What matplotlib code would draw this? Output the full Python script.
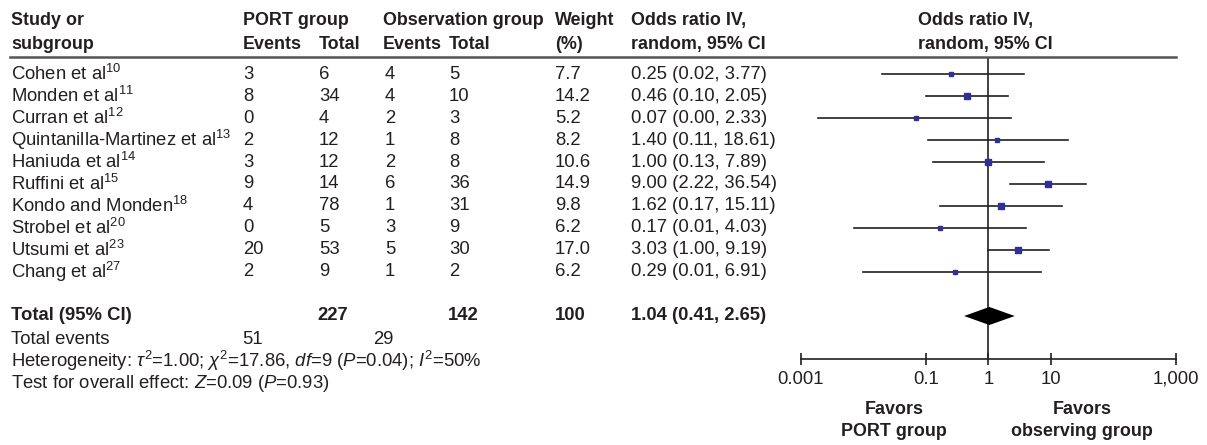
import numpy as np
import matplotlib.pyplot as plt
from matplotlib import transforms

plt.rcParams['font.family'] = ['Liberation Sans', 'DejaVu Sans']
plt.rcParams['mathtext.fontset'] = 'custom'
plt.rcParams['mathtext.rm'] = 'Liberation Sans'
plt.rcParams['mathtext.it'] = 'Liberation Sans:italic'
plt.rcParams['mathtext.bf'] = 'Liberation Sans:bold'

# study-level data
studies = ['Cohen et al', 'Monden et al', 'Curran et al', 'Quintanilla-Martinez et al',
           'Haniuda et al', 'Ruffini et al', 'Kondo and Monden', 'Strobel et al',
           'Utsumi et al', 'Chang et al']
refs = ['10', '11', '12', '13', '14', '15', '18', '20', '23', '27']
port_events = [3, 8, 0, 2, 3, 9, 4, 0, 20, 2]
port_total = [6, 34, 4, 12, 12, 14, 78, 5, 53, 9]
obs_events = [4, 4, 2, 1, 2, 6, 1, 3, 5, 1]
obs_total = [5, 10, 3, 8, 8, 36, 31, 9, 30, 2]
weights = [7.7, 14.2, 5.2, 8.2, 10.6, 14.9, 9.8, 6.2, 17.0, 6.2]
odds = [0.25, 0.46, 0.07, 1.40, 1.00, 9.00, 1.62, 0.17, 3.03, 0.29]
ci_low = [0.02, 0.10, 0.0019, 0.11, 0.13, 2.22, 0.17, 0.0071, 1.00, 0.01]
ci_high = [3.77, 2.05, 2.33, 18.61, 7.89, 36.54, 15.11, 4.03, 9.19, 6.91]

# pooled estimate
total_port, total_obs = 227, 142
events_port, events_obs = 51, 29
total_weight = 100
pooled_or, pooled_lo, pooled_hi = 1.04, 0.41, 2.65

tick_vals = [0.001, 0.1, 1, 10, 1000]
tick_labels = ['0.001', '0.1', '1', '10', '1,000']

TXT = '#231f20'
SQ = '#2e3192'
FS = 13.3
FS_HDR = 12.9
W, H = 1207, 445

fig = plt.figure(figsize=(W / 100, H / 100), dpi=100)
ax = fig.add_axes([800.8 / W, 86 / H, 375 / W, 302 / H])
ax.set_xscale('log')
ax.set_xlim(0.001, 1000)
ax.set_ylim(12.955, -0.773)
for s in ['top', 'left', 'right']:
    ax.spines[s].set_visible(False)
ax.spines['bottom'].set_linewidth(1.2)
ax.spines['bottom'].set_color(TXT)
ax.set_yticks([])
ax.set_xticks(tick_vals)
ax.set_xticklabels(tick_labels)
ax.xaxis.set_minor_locator(plt.NullLocator())
ax.tick_params(axis='x', direction='inout', length=9, width=1.2, colors=TXT,
               labelsize=FS, pad=4)

rows = np.arange(len(studies))
total_row = len(studies) + 1

# line of no effect
ax.axvline(1, color=TXT, lw=1.2, zorder=1)

# confidence intervals and weighted squares
for i in rows:
    ax.plot([ci_low[i], ci_high[i]], [i, i], color=TXT, lw=1.2, zorder=2)
    ax.plot(odds[i], i, marker='s', ms=1.2 * np.sqrt(weights[i]), color=SQ,
            mec=SQ, zorder=3)

# pooled diamond
h = 0.41
ax.fill([pooled_lo, pooled_or, pooled_hi, pooled_or],
        [total_row, total_row - h, total_row, total_row + h],
        color='black', lw=0, zorder=3)

# table text: x in figure pixels, y in row units
tr = transforms.blended_transform_factory(fig.transFigure, ax.transData)


def put(xpx, row, s, bold=False, ha='left', size=FS):
    fig.text(xpx / W, row, s, transform=tr, fontsize=size, color=TXT, va='center',
             ha=ha, fontweight='bold' if bold else 'normal')


def head(xpx, row, s, ha='left'):
    put(xpx, row, s, bold=True, ha=ha, size=FS_HDR)


# header line across the table
line_tr = transforms.blended_transform_factory(fig.transFigure, ax.transAxes)
ax.plot([10 / W, 1176 / W], [1, 1], transform=line_tr, color='#555555', lw=1.8,
        clip_on=False, zorder=4)

hdr1, hdr2 = -2.41, -1.36
head(11, hdr1, 'Study or')
head(11, hdr2, 'subgroup')
head(243, hdr1, 'PORT group')
head(243, hdr2, 'Events')
head(319, hdr2, 'Total')
head(383, hdr1, 'Observation group')
head(383, hdr2, 'Events')
head(449, hdr2, 'Total')
head(555, hdr1, 'Weight')
head(555, hdr2, '(%)')
head(631, hdr1, 'Odds ratio IV,')
head(631, hdr2, 'random, 95% CI')
head(918, hdr1, 'Odds ratio IV,')
head(918, hdr2, 'random, 95% CI')

for i in rows:
    put(11, i, studies[i] + '$^{' + refs[i] + '}$')
    put(243, i, str(port_events[i]))
    put(319, i, str(port_total[i]))
    put(385, i, str(obs_events[i]))
    put(449, i, str(obs_total[i]))
    put(555, i, f'{weights[i]:.1f}')
    put(631, i, f'{odds[i]:.2f} ({ci_low[i]:.2f}, {ci_high[i]:.2f})')

put(11, total_row, 'Total (95% CI)', bold=True)
put(317, total_row, str(total_port), bold=True)
put(448, total_row, str(total_obs), bold=True)
put(555, total_row, str(total_weight), bold=True)
put(631, total_row, f'{pooled_or:.2f} ({pooled_lo:.2f}, {pooled_hi:.2f})', bold=True)

put(11, 12.05, 'Total events')
put(242, 12.05, str(events_port))
put(373, 12.05, str(events_obs))
put(11, 13.05, r'Heterogeneity: $\tau^2$=1.00; $\chi^2$=17.86, $df$=9 ($P$=0.04); $I^2$=50%')
put(11, 14.05, r'Test for overall effect: $Z$=0.09 ($P$=0.93)')

# direction labels under the axis
head(894, 15.27, 'Favors', ha='center')
head(894, 16.27, 'PORT group', ha='center')
head(1082, 15.27, 'Favors', ha='center')
head(1082, 16.27, 'observing group', ha='center')

fig.savefig('out.png', dpi=100, facecolor='white')
